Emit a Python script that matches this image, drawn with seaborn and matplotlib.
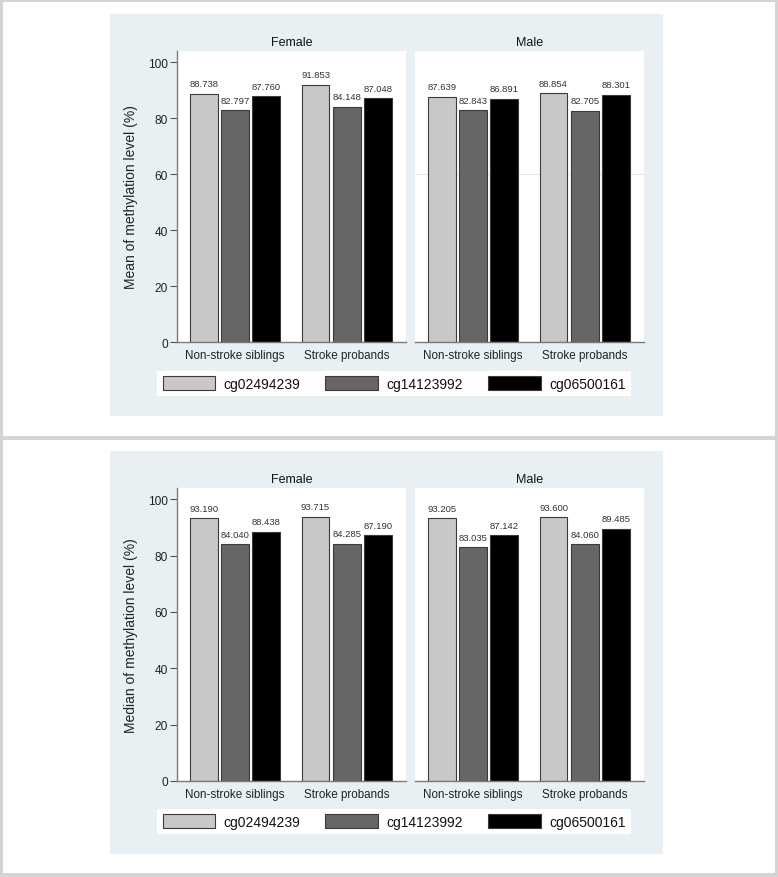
import matplotlib
matplotlib.use("Agg")
import matplotlib.pyplot as plt
from matplotlib.patches import Rectangle
import seaborn as sns
import pandas as pd

sns.set_style("white")
plt.rcParams['font.family'] = ['Liberation Sans', 'DejaVu Sans']

# ---------------- data ----------------
groups = ["Non-stroke siblings", "Stroke probands"]
cpgs = ["cg02494239", "cg14123992", "cg06500161"]
sexes = ["Female", "Male"]
colors = ["#c8c8c8", "#666666", "#000000"]

mean_female_siblings = [88.738, 82.797, 87.760]
mean_female_probands = [91.853, 84.148, 87.048]
mean_male_siblings = [87.639, 82.843, 86.891]
mean_male_probands = [88.854, 82.705, 88.301]

median_female_siblings = [93.190, 84.040, 88.438]
median_female_probands = [93.715, 84.285, 87.190]
median_male_siblings = [93.205, 83.035, 87.142]
median_male_probands = [93.600, 84.060, 89.485]

yticks = [0, 20, 40, 60, 80, 100]
ylabels = ["Mean of methylation level (%)", "Median of methylation level (%)"]

panels = {
    "Mean": {"Female": (mean_female_siblings, mean_female_probands),
             "Male": (mean_male_siblings, mean_male_probands)},
    "Median": {"Female": (median_female_siblings, median_female_probands),
               "Male": (median_male_siblings, median_male_probands)},
}

def make_df(sib, pro):
    rows = []
    for g, vals in zip(groups, (sib, pro)):
        for c, v in zip(cpgs, vals):
            rows.append({"group": g, "cpg": c, "value": v})
    return pd.DataFrame(rows)

# ---------------- layout ----------------
W, H = 778, 878
fig = plt.figure(figsize=(W / 100, H / 100), dpi=100)
fig.patch.set_facecolor("#d4d4d4")

def rect(x0, y0, x1, y1, color, z=-10):
    fig.add_artist(Rectangle((x0 / W, 1 - y1 / H), (x1 - x0) / W, (y1 - y0) / H,
                             transform=fig.transFigure, facecolor=color,
                             edgecolor="none", zorder=z))

def frac(x0, y0, x1, y1):
    return [x0 / W, 1 - y1 / H, (x1 - x0) / W, (y1 - y0) / H]

# white panels and blue-grey boxes
rect(3, 3, 775, 437, "white", -10)
rect(3, 441, 775, 874, "white", -10)
rect(110, 15, 663, 417, "#e9f0f3", -9)
rect(110, 452, 663, 855, "#e9f0f3", -9)

layout = [
    ("Mean", 52, 343, 372, 397, ylabels[0]),
    ("Median", 489, 782, 810, 835, ylabels[1]),
]
xspans = {"Female": (177, 406), "Male": (415, 644)}

for stat, ytop, ybot, ly0, ly1, ylab in layout:
    handles = None
    for sex in sexes:
        x0, x1 = xspans[sex]
        ax = fig.add_axes(frac(x0, ytop, x1, ybot))
        ax.set_facecolor("white")
        sib, pro = panels[stat][sex]
        df = make_df(sib, pro)
        sns.barplot(data=df, x="group", y="value", hue="cpg", hue_order=cpgs,
                    palette=colors, width=0.84, gap=0.11, edgecolor="#3a3a3a",
                    linewidth=0.8, ax=ax, legend=True, saturation=1)
        if handles is None:
            handles, labels = ax.get_legend_handles_labels()
        if ax.legend_ is not None:
            ax.legend_.remove()
        for cont in ax.containers:
            ax.bar_label(cont, fmt="%.3f", padding=4, fontsize=6.8, color="#333333")
        ax.set_xlim(-0.52, 1.53)
        ax.set_ylim(0, 104)
        ax.set_xlabel("")
        ax.set_title(sex, fontsize=9, pad=4, color="#111111")
        for s in ["top", "right"]:
            ax.spines[s].set_visible(False)
        ax.spines["bottom"].set_color("#7a7a7a")
        ax.spines["bottom"].set_linewidth(1.0)
        ax.tick_params(axis="x", length=0, pad=5, labelsize=8.4, colors="#222222")
        if sex == "Female":
            ax.spines["left"].set_color("#7a7a7a")
            ax.spines["left"].set_linewidth(1.0)
            ax.set_yticks(yticks)
            ax.tick_params(axis="y", length=5, width=0.8, color="#555555", pad=1.5,
                           labelsize=8.6, labelcolor="#222222", left=True)
            ax.set_ylabel(ylab, fontsize=10, color="#222222")
            ax.yaxis.set_label_coords(-0.17, 0.5)
        else:
            ax.spines["left"].set_visible(False)
            ax.set_yticks([])
            ax.set_ylabel("")
            if stat == "Mean":
                ax.axhline(60, color="#e4e7e9", lw=0.8, zorder=0)
    leg = fig.legend(handles, labels, loc="center", ncol=3, mode="expand",
                     bbox_to_anchor=(157 / W, 1 - ly1 / H, (631 - 157) / W, (ly1 - ly0) / H),
                     borderaxespad=0, fontsize=10, handlelength=3.8, handleheight=1.1,
                     handletextpad=0.58, borderpad=0.4, frameon=True, fancybox=False,
                     facecolor="white", edgecolor="none", framealpha=1)
    for t in leg.get_texts():
        t.set_color("#111111")

fig.savefig("out.png", dpi=100, facecolor=fig.get_facecolor())
